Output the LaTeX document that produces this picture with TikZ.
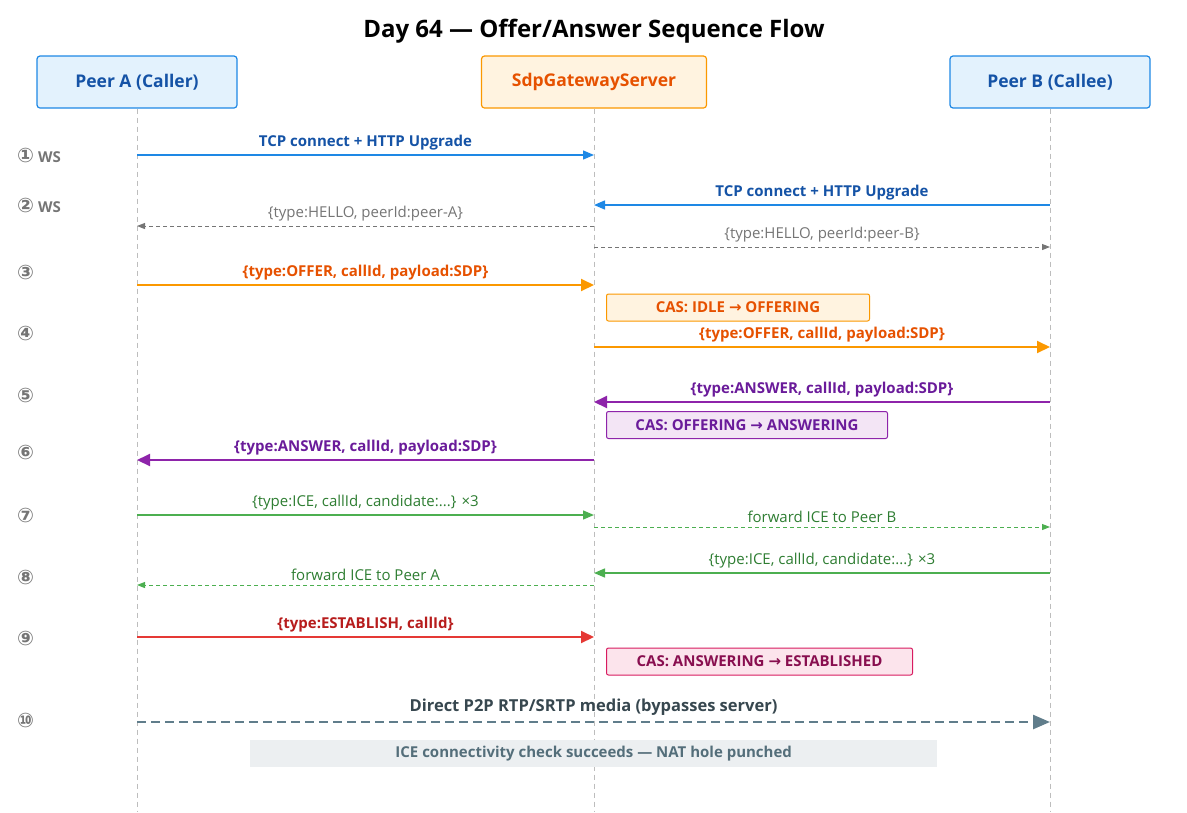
\documentclass[tikz,border=0pt]{standalone}
\usepackage{fontspec}
\setmainfont{Open Sans}
\newfontfamily\symfont{DejaVu Sans}
\usetikzlibrary{arrows.meta,positioning}

\definecolor{lifegray}{HTML}{BDBDBD}
\definecolor{stepgray}{HTML}{757575}
\definecolor{bluefill}{HTML}{E3F2FD}
\definecolor{blueline}{HTML}{1E88E5}
\definecolor{bluetext}{HTML}{1553A6}
\definecolor{orfill}{HTML}{FFF3E0}
\definecolor{orline}{HTML}{FB9800}
\definecolor{ortext}{HTML}{E65100}
\definecolor{pufill}{HTML}{F3E5F5}
\definecolor{puline}{HTML}{8E24AA}
\definecolor{putext}{HTML}{6A1B9A}
\definecolor{grline}{HTML}{4CAF50}
\definecolor{grtext}{HTML}{2E7D32}
\definecolor{reline}{HTML}{E53935}
\definecolor{retext}{HTML}{B71C1C}
\definecolor{pkfill}{HTML}{FCE4EC}
\definecolor{pkline}{HTML}{D81B60}
\definecolor{pktext}{HTML}{880E4F}
\definecolor{slline}{HTML}{607D8B}
\definecolor{sltext}{HTML}{37474F}
\definecolor{slfill}{HTML}{ECEFF1}
\definecolor{sltext2}{HTML}{546E7A}

\newcommand{\ra}{{\symfont\char"2192}}

\begin{document}
\begin{tikzpicture}[x=1pt,y=-1pt]
            \tikzset{actor/.style = {draw, rounded corners=3pt, line width=1.2pt, minimum height=52pt, font=\fontsize{17.5}{20}\selectfont\bfseries}}
            \tikzset{life/.style = {lifegray, dashed, line width=0.8pt, dash pattern=on 5pt off 4pt}}
            \tikzset{steplbl/.style = {anchor=west, text=stepgray, font=\fontsize{15}{17}\selectfont\bfseries, inner sep=0pt}}
            \tikzset{bold msg/.style = {line width=2pt, -{Triangle[length=13pt,width=12pt]}}}
            \tikzset{thin msg/.style = {line width=1.4pt, -{Triangle[length=11pt,width=9pt]}}}
            \tikzset{back msg/.style = {line width=1pt, dashed, dash pattern=on 4pt off 3pt, -{Triangle[length=8pt,width=6pt]}}}
            \tikzset{lbl/.style = {above=4pt, inner sep=0pt, font=\fontsize{15}{17}\selectfont\bfseries}}
            \tikzset{plainlbl/.style = {above=4pt, inner sep=0pt, font=\fontsize{15}{17}\selectfont}}
            \tikzset{casbox/.style = {draw, rounded corners=2pt, line width=1pt, anchor=west, minimum height=27pt, font=\fontsize{15}{17}\selectfont\bfseries}}

            \useasboundingbox (0,0) rectangle (1187,812);

            % title
            \node[font=\fontsize{24}{28}\selectfont\bfseries] (title) at (594,31) {Day 64 — Offer/Answer Sequence Flow};

            % actors
            \node[actor, minimum width=200pt, fill=bluefill, draw=blueline, text=bluetext] (A) at (137,82) {\raisebox{-1.5pt}{Peer A (Caller)}};
            \node[actor, minimum width=225pt, fill=orfill, draw=orline, text=ortext] (S) at (594,82) {\raisebox{-1.5pt}{SdpGatewayServer}};
            \node[actor, minimum width=200pt, fill=bluefill, draw=blueline, text=bluetext] (B) at (1050,82) {\raisebox{-1.5pt}{Peer B (Callee)}};

            % lifelines
            \foreach \p/\x in {A/137,S/594,B/1050}
            {
              \coordinate (\p end) at (\x,812);
              \draw[life] (\p.south) -- (\p end);
            }

            % message points on the lifelines
            \foreach \i/\y in {1/155,2/205,2b/226,2c/247,3/285,4/347,5/402,6/460,7/515,7b/527,8/573,8b/585,9/637,10/722}
            {
              \coordinate (a\i) at (137,\y);
              \coordinate (s\i) at (594,\y);
              \coordinate (b\i) at (1050,\y);
            }

            % step labels
            \foreach \n/\y/\t in {2460/155/ WS,2461/205/ WS,2462/272/,2463/333/,2464/395/,2465/452/,2466/515/,2467/577/,2468/638/,2469/720/}
            {
              \node[steplbl] (step\n) at (17,\y) {{\symfont\fontsize{20}{20}\selectfont\char"\n}\t};
            }

            % handshake
            \draw[thin msg, blueline] (a1) -- node[lbl, text=bluetext] {TCP connect + HTTP Upgrade} (s1);
            \draw[thin msg, blueline] (b2) -- node[lbl, text=bluetext] {TCP connect + HTTP Upgrade} (s2);
            \draw[back msg, stepgray] (s2b) -- node[plainlbl, text=stepgray] {\{type:HELLO, peerId:peer-A\}} (a2b);
            \draw[back msg, stepgray] (s2c) -- node[plainlbl, text=stepgray] {\{type:HELLO, peerId:peer-B\}} (b2c);

            % offer
            \draw[bold msg, orline] (a3) -- node[lbl, text=ortext] {\{type:OFFER, callId, payload:SDP\}} (s3);
            \node[casbox, fill=orfill, draw=orline, text=ortext, minimum width=263pt] (cas1) at (606,307.5) {CAS: IDLE \ra{} OFFERING};
            \draw[bold msg, orline] (s4) -- node[lbl, text=ortext] {\{type:OFFER, callId, payload:SDP\}} (b4);

            % answer
            \draw[bold msg, puline] (b5) -- node[lbl, text=putext] {\{type:ANSWER, callId, payload:SDP\}} (s5);
            \node[casbox, fill=pufill, draw=puline, text=putext, minimum width=281pt] (cas2) at (606,425) {CAS: OFFERING \ra{} ANSWERING};
            \draw[bold msg, puline] (s6) -- node[lbl, text=putext] {\{type:ANSWER, callId, payload:SDP\}} (a6);

            % trickle ICE
            \draw[thin msg, grline] (a7) -- node[plainlbl, text=grtext] {\{type:ICE, callId, candidate:...\} ×3} (s7);
            \draw[back msg, grline] (s7b) -- node[plainlbl, text=grtext] {forward ICE to Peer B} (b7b);
            \draw[thin msg, grline] (b8) -- node[plainlbl, text=grtext] {\{type:ICE, callId, candidate:...\} ×3} (s8);
            \draw[back msg, grline] (s8b) -- node[plainlbl, text=grtext] {forward ICE to Peer A} (a8b);

            % establish
            \draw[bold msg, reline] (a9) -- node[lbl, text=retext] {\{type:ESTABLISH, callId\}} (s9);
            \node[casbox, fill=pkfill, draw=pkline, text=pktext, minimum width=306pt] (cas3) at (606,661.5) {CAS: ANSWERING \ra{} ESTABLISHED};

            % media
            \draw[slline, line width=2.5pt, dash pattern=on 9pt off 5pt, -{Triangle[length=17pt,width=14pt]}] (a10) -- node[lbl, above=5pt, text=sltext, font=\fontsize{16.5}{19}\selectfont\bfseries] {Direct P2P RTP/SRTP media (bypasses server)} (b10);
            \node[fill=slfill, minimum width=687pt, minimum height=27pt, anchor=west, text=sltext2, font=\fontsize{15}{17}\selectfont\bfseries] (ice) at (250,753.5) {ICE connectivity check succeeds — NAT hole punched};

          \end{tikzpicture}
\end{document}
